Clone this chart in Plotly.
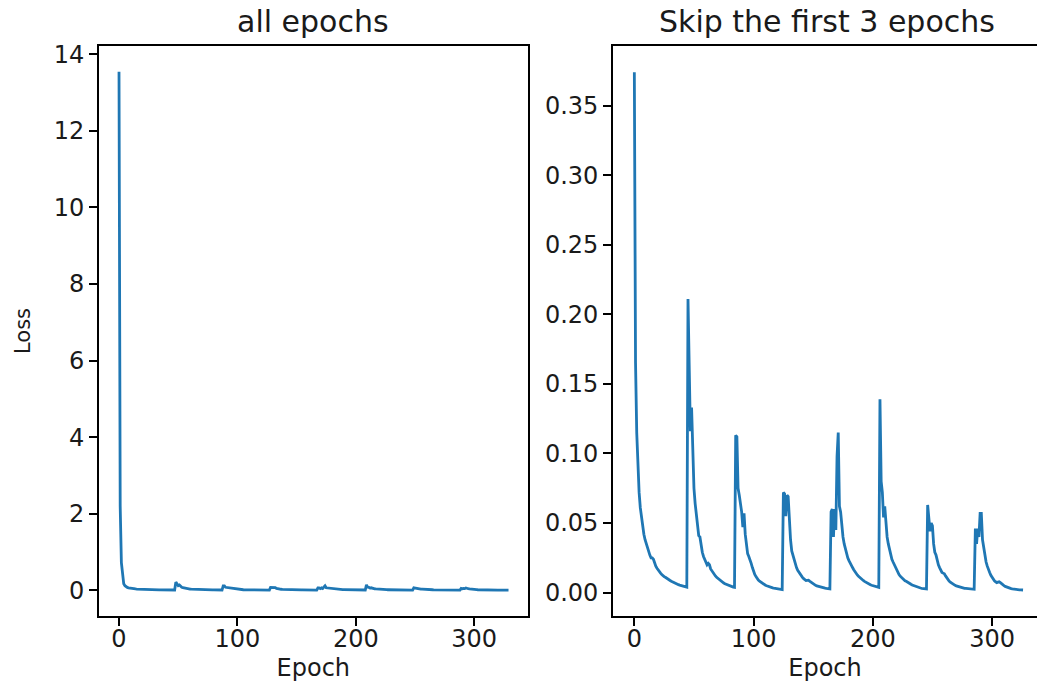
import plotly.graph_objects as go

# ---- data ----
first_three = [13.55, 2.2, 0.72]   # epochs 0..2 (skipped in the right panel)

cycle0 = [0.374, 0.165, 0.115, 0.088, 0.072, 0.061, 0.053, 0.047, 0.042, 0.038,
          0.035, 0.032, 0.029, 0.027, 0.025, 0.025, 0.024, 0.021, 0.019, 0.0175,
          0.016, 0.015, 0.014, 0.013, 0.012, 0.0115, 0.011, 0.0103, 0.0097, 0.0092,
          0.0087, 0.0082, 0.0077, 0.0072, 0.0068, 0.0064, 0.006, 0.0057, 0.0054, 0.0051,
          0.0048, 0.0045, 0.0043, 0.0041, 0.004]
cycle1 = [0.211, 0.150, 0.116, 0.133, 0.095, 0.075, 0.064, 0.055, 0.046, 0.041,
          0.040, 0.033, 0.029, 0.026, 0.024, 0.022, 0.020, 0.021, 0.020, 0.017,
          0.0155, 0.014, 0.013, 0.012, 0.011, 0.0102, 0.0094, 0.0087, 0.008, 0.0074,
          0.0069, 0.0064, 0.006, 0.0056, 0.0052, 0.0048, 0.0045, 0.0042, 0.004, 0.0038]
cycle2 = [0.113, 0.112, 0.075, 0.070, 0.065, 0.058, 0.047, 0.057, 0.042, 0.033,
          0.028, 0.026, 0.024, 0.021, 0.018, 0.015, 0.013, 0.0115, 0.010, 0.009,
          0.0082, 0.0075, 0.007, 0.0063, 0.0058, 0.0053, 0.0049, 0.0045, 0.0042, 0.0039,
          0.0036, 0.0034, 0.0032, 0.003, 0.0028, 0.0026, 0.0025, 0.0024, 0.0023, 0.0022]
cycle3 = [0.072, 0.071, 0.055, 0.070, 0.069, 0.048, 0.038, 0.030, 0.027, 0.024,
          0.020, 0.018, 0.016, 0.0145, 0.013, 0.012, 0.011, 0.010, 0.0093, 0.0087,
          0.0088, 0.0089, 0.0082, 0.0075, 0.0068, 0.0062, 0.0057, 0.0052, 0.0048, 0.0045,
          0.0042, 0.004, 0.0038, 0.0036, 0.0034, 0.0032, 0.003, 0.0029, 0.0028, 0.0027]
cycle4 = [0.058, 0.060, 0.040, 0.060, 0.045, 0.098, 0.115, 0.062, 0.058, 0.048,
          0.040, 0.035, 0.031, 0.028, 0.025, 0.023, 0.021, 0.0195, 0.018, 0.0165,
          0.015, 0.0138, 0.0127, 0.0117, 0.0108, 0.0100, 0.0093, 0.0087, 0.0081, 0.0075,
          0.0070, 0.0065, 0.0061, 0.0057, 0.0053, 0.005, 0.0047, 0.0044, 0.0042, 0.004]
cycle5 = [0.0038, 0.139, 0.080, 0.072, 0.054, 0.062, 0.048, 0.040, 0.035, 0.031,
          0.027, 0.024, 0.022, 0.020, 0.018, 0.016, 0.0145, 0.013, 0.0118, 0.0108,
          0.0098, 0.009, 0.0085, 0.0082, 0.0078, 0.0072, 0.0066, 0.006, 0.0055, 0.0051,
          0.0047, 0.0044, 0.0041, 0.0038, 0.0035, 0.0033, 0.0031, 0.0029, 0.0028, 0.0027,
          0.0026]
cycle6 = [0.063, 0.055, 0.044, 0.050, 0.048, 0.035, 0.029, 0.027, 0.023, 0.020,
          0.018, 0.0155, 0.0145, 0.014, 0.0135, 0.012, 0.0105, 0.0093, 0.0083, 0.0075,
          0.0068, 0.0062, 0.0057, 0.0052, 0.0048, 0.0045, 0.0042, 0.0039, 0.0037, 0.0035,
          0.0033, 0.0031, 0.003, 0.0029, 0.0028, 0.0027, 0.0026, 0.0025, 0.0024, 0.0024]
cycle7 = [0.046, 0.035, 0.046, 0.040, 0.057, 0.057, 0.038, 0.032, 0.026, 0.022,
          0.019, 0.016, 0.0145, 0.0125, 0.011, 0.0095, 0.0085, 0.0078, 0.0072, 0.0075,
          0.0078, 0.0072, 0.0063, 0.0056, 0.005, 0.0045, 0.0041, 0.0037, 0.0034, 0.0031,
          0.0029, 0.0027, 0.0025, 0.0024, 0.0023, 0.0022, 0.0021, 0.002, 0.002, 0.0019,
          0.0019]

skip_loss = cycle0 + cycle1 + cycle2 + cycle3 + cycle4 + cycle5 + cycle6 + cycle7
all_loss = first_three + skip_loss
all_epochs = list(range(len(all_loss)))
skip_epochs = list(range(len(skip_loss)))

left_yticks = [0, 2, 4, 6, 8, 10, 12, 14]
right_yticks = [0.00, 0.05, 0.10, 0.15, 0.20, 0.25, 0.30, 0.35]
xticks = [0, 100, 200, 300]

# ---- figure ----
W, H = 1037, 682
LINE = "#1f77b4"
FONT = "DejaVu Sans"
TXT = "#1a1a1a"

fig = go.Figure()
fig.add_trace(go.Scatter(x=all_epochs, y=all_loss, mode="lines",
                         line=dict(color=LINE, width=2.8), xaxis="x", yaxis="y",
                         showlegend=False))
fig.add_trace(go.Scatter(x=skip_epochs, y=skip_loss, mode="lines",
                         line=dict(color=LINE, width=2.8), xaxis="x2", yaxis="y2",
                         showlegend=False))

ydom = [1 - 616 / H, 1 - 46 / H]
ax_common = dict(showline=True, linecolor="black", linewidth=1.6, ticks="outside",
                 ticklen=8, tickwidth=1.6, tickcolor="black", showgrid=False,
                 zeroline=False, tickfont=dict(family=FONT, size=24, color=TXT))

fig.update_layout(
    width=W, height=H, template="none",
    paper_bgcolor="white", plot_bgcolor="white",
    margin=dict(l=0, r=0, t=0, b=0),
    font=dict(family=FONT, color=TXT),
    xaxis=dict(domain=[99 / W, 527.7 / W], range=[-16.9, 345.2], tickvals=xticks,
               mirror=True, anchor="y", ticklabelstandoff=-8,
               title=dict(text="Epoch", font=dict(family=FONT, size=24, color=TXT), standoff=8),
               **ax_common),
    yaxis=dict(domain=ydom, range=[-0.675, 14.22], tickvals=left_yticks, mirror=True,
               anchor="x",
               title=dict(text="Loss", font=dict(family=FONT, size=21, color=TXT), standoff=18),
               **ax_common),
    xaxis2=dict(domain=[613 / W, 1.0], range=[-17.9, 337.7], tickvals=xticks,
                mirror=True, anchor="y2", ticklabelstandoff=-8,
                title=dict(text="Epoch", font=dict(family=FONT, size=24, color=TXT), standoff=8),
                **ax_common),
    yaxis2=dict(domain=ydom, range=[-0.0168, 0.3928], tickvals=right_yticks,
                tickformat=".2f", mirror=False, anchor="x2", **ax_common),
    annotations=[
        dict(text="all epochs", x=313 / W, y=1 - 22 / H, xref="paper", yref="paper",
             showarrow=False, xanchor="center", yanchor="middle",
             font=dict(family=FONT, size=30, color=TXT)),
        dict(text="Skip the first 3 epochs", x=827 / W, y=1 - 22 / H, xref="paper",
             yref="paper", showarrow=False, xanchor="center", yanchor="middle",
             font=dict(family=FONT, size=30, color=TXT)),
    ],
)

fig.write_html("out.html",
               config={"displayModeBar": False},
               post_script="document.body.style.margin='0';"
                           "document.body.style.overflow='hidden';")
